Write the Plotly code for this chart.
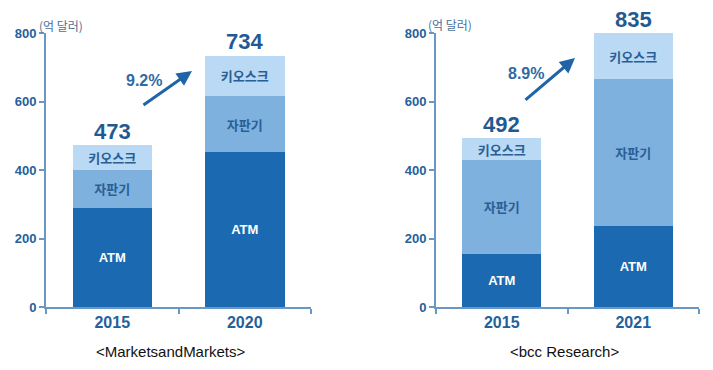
import plotly.graph_objects as go

# ---- data ----
segments = ["ATM", "자판기", "키오스크"]
left_years = ["2015", "2020"]
left_atm = [290, 452]
left_vending = [110, 164]
left_kiosk = [73, 118]
left_totals = [473, 734]
left_growth = "9.2%"
left_source = "<MarketsandMarkets>"

right_years = ["2015", "2021"]
right_atm = [155, 237]
right_vending = [275, 428]
right_kiosk = [62, 135]
right_totals = [492, 835]
right_growth = "8.9%"
right_source = "<bcc Research>"

unit_label = "(억 달러)"
y_ticks = [0, 200, 400, 600, 800]

# ---- styles ----
colors = ["#1b69b0", "#7fb1de", "#b9d9f5"]
text_colors = ["#ffffff", "#2a5f96", "#2a5f96"]
dark = "#24619c"
axis_col = "#6a97c4"
num_font = "Liberation Sans"
kr_font = "Noto Sans CJK KR"

OFF = 8  # page body margin
W, H = 713 - OFF, 370 - OFF
top_px, bot_px = 33 - OFF, 307 - OFF
plot_h = bot_px - top_px

def px(x):
    return (x - OFF) / W

def py(y):
    return (bot_px - (y - OFF)) / plot_h

fig = go.Figure()

def add_panel(years, series, xa, ya):
    for name, vals, col, tcol in zip(segments, series, colors, text_colors):
        fig.add_trace(go.Bar(
            x=years, y=vals, name=name, marker=dict(color=col, line=dict(width=0)),
            text=[name] * len(vals), textposition="inside", insidetextanchor="middle",
            textangle=0, constraintext="none",
            textfont=dict(family=kr_font if name != "ATM" else num_font, size=13,
                          color=tcol, weight="bold"),
            hoverinfo="skip", xaxis=xa, yaxis=ya, width=0.6, showlegend=False,
        ))

add_panel(left_years, [left_atm, left_vending, left_kiosk], "x", "y")
add_panel(right_years, [right_atm, right_vending, right_kiosk], "x2", "y2")

def xax(domain, anchor):
    return dict(domain=domain, anchor=anchor, type="category", range=[-0.5, 1.5], showline=True,
                linecolor=axis_col, linewidth=2, ticks="outside", tickson="boundaries",
                ticklen=5, tickcolor=axis_col, tickwidth=1.5, showgrid=False, zeroline=False,
                tickfont=dict(family=num_font, size=16, color=dark, weight="bold"),
                fixedrange=True)

def yax(anchor):
    return dict(anchor=anchor, range=[0, 800], tickvals=y_ticks, showline=True,
                linecolor=axis_col, linewidth=2, ticks="outside", ticklen=5,
                tickcolor=axis_col, tickwidth=1.5, showgrid=False, zeroline=False,
                tickfont=dict(family=num_font, size=13, color=dark, weight="bold"),
                fixedrange=True)

L_dom = [px(46), px(311)]
R_dom = [px(436), px(699)]

fig.update_layout(
    width=W, height=H, barmode="stack", plot_bgcolor="white", paper_bgcolor="white",
    margin=dict(l=0, r=0, t=top_px, b=H - bot_px),
    xaxis=xax(L_dom, "y"), yaxis=yax("x"),
    xaxis2=xax(R_dom, "y2"), yaxis2=yax("x2"),
)

ann = []
def panel_ann(series, totals, growth, source, xr, yr, arrow, gtext, unit_xy, src_x):
    stack_tops = [sum(v) for v in zip(*series)]
    for i, (top, tot) in enumerate(zip(stack_tops, totals)):
        ann.append(dict(x=i, y=top, xref=xr, yref=yr, text=str(tot), showarrow=False,
                        yanchor="middle", yshift=14,
                        font=dict(family=num_font, size=22, color="#1f5a93", weight="bold")))
    # growth arrow
    ann.append(dict(x=arrow[2], y=arrow[3], ax=arrow[0], ay=arrow[1], xref=xr, yref=yr,
                    axref=xr, ayref=yr, showarrow=True, arrowhead=2, arrowsize=1,
                    arrowwidth=3, arrowcolor="#1f64a6", text=""))
    ann.append(dict(x=gtext[0], y=gtext[1], xref=xr, yref=yr, text=growth, showarrow=False,
                    font=dict(family=num_font, size=16, color="#2f6aa3", weight="bold")))
    # unit
    ann.append(dict(x=px(unit_xy[0]), y=py(unit_xy[1]), xref="paper", yref="paper",
                    text=unit_label, showarrow=False, xanchor="left", yanchor="middle",
                    font=dict(family=kr_font, size=12, color="#4a6f98")))
    # source
    ann.append(dict(x=px(src_x), y=py(351), xref="paper", yref="paper",
                    xanchor="center", yanchor="middle",
                    text=source.replace("<", "&lt;").replace(">", "&gt;"), showarrow=False,
                    font=dict(family="Liberation Sans", size=15, color="#111111")))

panel_ann([left_atm, left_vending, left_kiosk], left_totals, left_growth,
          left_source, "x", "y",
          (0.2245, 587, 0.602, 689), (0.24, 660), (37, 25), 170)
panel_ann([right_atm, right_vending, right_kiosk], right_totals, right_growth,
          right_source, "x2", "y2",
          (0.169, 601, 0.557, 727), (0.184, 683), (426, 24), 564)

fig.update_layout(annotations=ann)
fig.write_html("out.html")
